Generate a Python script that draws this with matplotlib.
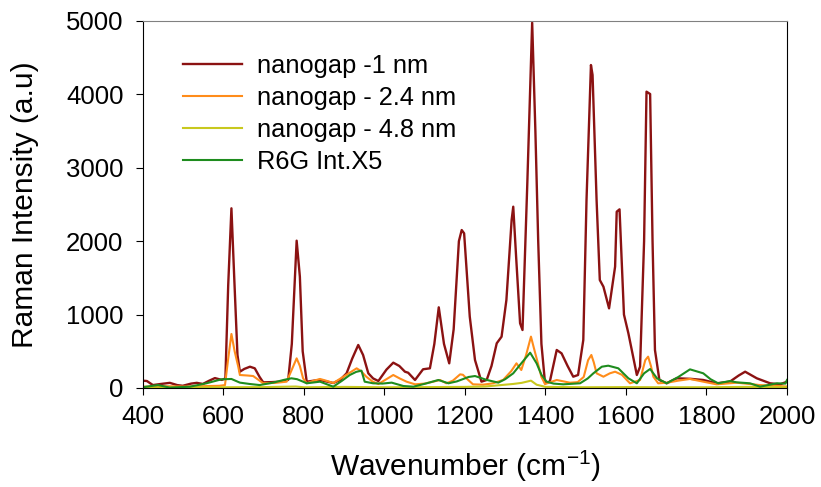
import matplotlib
matplotlib.use("Agg")
from matplotlib import pyplot as plt

plt.rcParams['font.family'] = ['Liberation Sans', 'DejaVu Sans']
plt.rcParams['mathtext.default'] = 'regular'

# nanogap -1 nm
x_1nm = [400, 410, 425, 445, 467, 485, 499, 520, 534, 549, 565, 579, 596, 605, 612, 620, 627,
         635, 641, 652, 666, 678, 690, 699, 720, 740, 761, 770, 782, 790, 797, 807, 825, 840,
         855, 873, 890, 906, 920, 935, 947, 960, 972, 985, 1005, 1022, 1037, 1051, 1059, 1076,
         1096, 1113, 1124, 1135, 1148, 1161, 1172, 1185, 1192, 1198, 1212, 1225, 1241, 1254,
         1266, 1279, 1291, 1303, 1316, 1320, 1327, 1337, 1343, 1355, 1367, 1375, 1382, 1390,
         1399, 1411, 1428, 1440, 1455, 1469, 1481, 1494, 1502, 1513, 1517, 1527, 1535, 1544,
         1558, 1573, 1577, 1584, 1595, 1606, 1627, 1635, 1645, 1651, 1660, 1666, 1672, 1683,
         1701, 1726, 1760, 1792, 1825, 1858, 1880, 1896, 1925, 1958, 1983, 2000]
y_1nm = [100, 95, 40, 55, 70, 40, 30, 60, 70, 55, 100, 135, 110, 130, 1400, 2448, 1500,
         450, 222, 260, 290, 268, 150, 77, 80, 86, 110, 600, 2007, 1517, 500, 86, 100, 110,
         90, 68, 110, 200, 400, 586, 450, 200, 130, 95, 250, 345, 300, 222, 208, 109,
         255, 268, 600, 1099, 600, 336, 800, 2000, 2152, 2107, 972, 381, 86, 109,
         300, 609, 699, 1199, 2289, 2470, 1800, 881, 790, 2800, 4977, 3500, 2000, 600,
         64, 90, 518, 472, 300, 154, 177, 654, 2561, 4400, 4264, 2561, 1471, 1380,
         1085, 1653, 2402, 2434, 1000, 745, 177, 290, 2000, 4037, 4005, 2000, 518, 109,
         64, 132, 125, 109, 64, 86, 170, 222, 132, 64, 50, 86]

# nanogap - 2.4 nm
x_24nm = [400, 409, 450, 500, 550, 590, 604, 612, 620, 628, 637, 641, 660, 674, 690, 699, 730,
          757, 770, 782, 790, 798, 807, 825, 840, 855, 873, 900, 931, 942, 955, 970, 985, 1005,
          1022, 1038, 1055, 1076, 1100, 1121, 1138, 1154, 1170, 1188, 1195, 1204, 1220, 1245,
          1270, 1295, 1315, 1328, 1340, 1352, 1364, 1371, 1378, 1390, 1399, 1428, 1445, 1461,
          1480, 1495, 1506, 1514, 1520, 1527, 1544, 1560, 1573, 1590, 1602, 1610, 1635, 1648,
          1655, 1662, 1668, 1680, 1702, 1730, 1759, 1792, 1825, 1875, 1933, 1970, 2000]
y_24nm = [20, 18, 25, 20, 25, 30, 40, 400, 736, 500, 290, 177, 170, 163, 100, 64, 70,
          86, 250, 404, 300, 132, 64, 100, 123, 100, 68, 160, 268, 230, 154, 90, 54, 120,
          177, 130, 86, 50, 60, 86, 109, 64, 100, 186, 180, 130, 50, 45,
          64, 110, 230, 336, 245, 450, 700, 550, 404, 150, 54, 109, 90, 72,
          80, 150, 380, 450, 350, 200, 154, 200, 222, 180, 109, 64, 109, 380,
          427, 300, 154, 64, 72, 100, 123, 86, 50, 72, 40, 30, 20]

# nanogap - 4.8 nm
x_48nm = [400, 500, 600, 700, 780, 800, 900, 1000, 1100, 1200, 1250, 1300, 1320, 1341, 1364,
          1378, 1400, 1500, 1600, 1700, 1800, 1900, 2000]
y_48nm = [5, 8, 10, 12, 20, 10, 15, 10, 12, 15, 20, 45, 55, 70, 100,
          45, 15, 10, 12, 10, 10, 15, 10]

# R6G Int.X5
x_r6g = [400, 409, 438, 467, 517, 558, 595, 620, 641, 665, 690, 724, 750, 769, 783, 798, 807,
         840, 873, 895, 914, 930, 943, 951, 972, 995, 1018, 1047, 1072, 1105, 1134, 1159, 1180,
         1209, 1225, 1254, 1283, 1300, 1320, 1340, 1362, 1378, 1390, 1403, 1420, 1444, 1486,
         1505, 1519, 1540, 1556, 1581, 1606, 1627, 1645, 1660, 1677, 1701, 1730, 1759, 1792,
         1810, 1829, 1858, 1875, 1908, 1933, 1975, 1996, 2000]
y_r6g = [10, 18, 40, 5, 18, 64, 118, 123, 73, 55, 40, 73, 110, 132, 120, 86, 64,
         86, 18, 100, 177, 220, 236, 86, 64, 60, 73, 27, 18, 64, 109, 64, 90,
         150, 163, 110, 73, 120, 200, 336, 481, 336, 180, 86, 60, 50, 64,
         130, 200, 290, 304, 268, 132, 64, 200, 259, 132, 64, 150, 254, 200,
         120, 64, 95, 77, 64, 18, 64, 60, 110]

fig = plt.figure(figsize=(8.21, 4.87), dpi=100)
ax = fig.add_axes([0.174, 0.2033, 0.7846, 0.7536])

ax.plot(x_1nm, y_1nm, color='#8b1212', lw=1.7, label='nanogap -1 nm')
ax.plot(x_24nm, y_24nm, color='#ff8c1a', lw=1.5, label='nanogap - 2.4 nm')
ax.plot(x_48nm, y_48nm, color='#c8c81e', lw=1.5, label='nanogap - 4.8 nm')
ax.plot(x_r6g, y_r6g, color='#1e8c1e', lw=1.5, label='R6G Int.X5')

ax.set_xlim(400, 2000)
ax.set_ylim(0, 5000)
ax.set_xticks(range(400, 2001, 200))
ax.set_yticks(range(0, 5001, 1000))
ax.tick_params(axis='both', direction='out', length=5, labelsize=18.5,
               top=False, right=False)
ax.tick_params(axis='y', pad=9)
ax.tick_params(axis='x', pad=7)
ax.spines['top'].set_color('#808080')
ax.spines['right'].set_color('black')

ax.set_xlabel('Wavenumber (cm$^{-1}$)', fontsize=21.5)
ax.set_ylabel('Raman Intensity (a.u)', fontsize=21.5)
ax.xaxis.set_label_coords(0.5, -0.165)
ax.yaxis.set_label_coords(-0.162, 0.5)

ax.legend(loc='upper left', bbox_to_anchor=(0.043, 0.945), frameon=False,
          fontsize=18.3, handlelength=2.3, handletextpad=0.6, labelspacing=0.31,
          borderpad=0)

plt.savefig("out.png", dpi=100)
